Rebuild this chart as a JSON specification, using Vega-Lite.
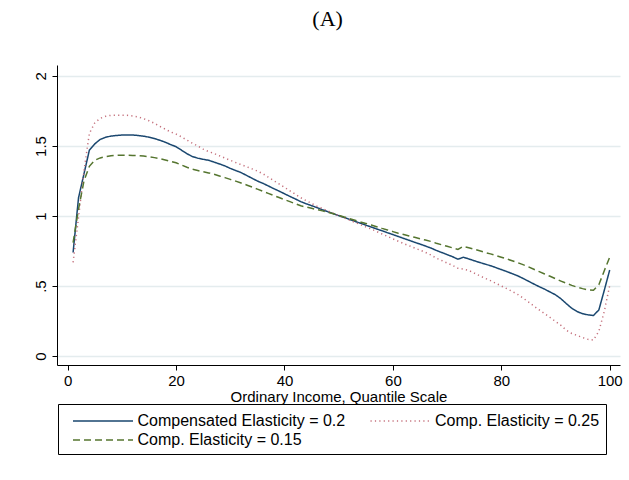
{
  "$schema": "https://vega.github.io/schema/vega-lite/v6.json",
  "autosize": "none",
  "width": 563,
  "height": 300,
  "padding": {"left": 57, "top": 65, "right": 9, "bottom": 115},
  "background": "white",
  "title": {
    "text": "(A)",
    "font": "Liberation Serif",
    "fontSize": 22,
    "fontWeight": "normal",
    "color": "black",
    "frame": "bounds",
    "anchor": "middle",
    "baseline": "alphabetic",
    "offset": 17
  },
  "data": {
    "values": [
      {"q": 1, "e20": 0.74, "e25": 0.67, "e15": 0.81},
      {"q": 2, "e20": 1.13, "e25": 0.99, "e15": 1.05},
      {"q": 3, "e20": 1.30, "e25": 1.32, "e15": 1.25},
      {"q": 4, "e20": 1.47, "e25": 1.59, "e15": 1.355},
      {"q": 5, "e20": 1.515, "e25": 1.665, "e15": 1.398},
      {"q": 6, "e20": 1.547, "e25": 1.697, "e15": 1.415},
      {"q": 7, "e20": 1.562, "e25": 1.712, "e15": 1.424},
      {"q": 8, "e20": 1.571, "e25": 1.719, "e15": 1.43},
      {"q": 9, "e20": 1.575, "e25": 1.72, "e15": 1.433},
      {"q": 10, "e20": 1.578, "e25": 1.72, "e15": 1.434},
      {"q": 11, "e20": 1.578, "e25": 1.719, "e15": 1.434},
      {"q": 12, "e20": 1.578, "e25": 1.714, "e15": 1.433},
      {"q": 13, "e20": 1.575, "e25": 1.707, "e15": 1.431},
      {"q": 14, "e20": 1.57, "e25": 1.695, "e15": 1.428},
      {"q": 15, "e20": 1.563, "e25": 1.68, "e15": 1.423},
      {"q": 16, "e20": 1.553, "e25": 1.662, "e15": 1.417},
      {"q": 17, "e20": 1.541, "e25": 1.64, "e15": 1.41},
      {"q": 18, "e20": 1.527, "e25": 1.62, "e15": 1.40},
      {"q": 19, "e20": 1.51, "e25": 1.6, "e15": 1.39},
      {"q": 20, "e20": 1.495, "e25": 1.585, "e15": 1.38},
      {"q": 21, "e20": 1.47, "e25": 1.565, "e15": 1.364},
      {"q": 22, "e20": 1.445, "e25": 1.542, "e15": 1.348},
      {"q": 23, "e20": 1.425, "e25": 1.52, "e15": 1.334},
      {"q": 24, "e20": 1.413, "e25": 1.5, "e15": 1.325},
      {"q": 25, "e20": 1.405, "e25": 1.478, "e15": 1.316},
      {"q": 26, "e20": 1.398, "e25": 1.46, "e15": 1.308},
      {"q": 27, "e20": 1.385, "e25": 1.447, "e15": 1.298},
      {"q": 28, "e20": 1.372, "e25": 1.43, "e15": 1.286},
      {"q": 29, "e20": 1.358, "e25": 1.414, "e15": 1.274},
      {"q": 30, "e20": 1.34, "e25": 1.398, "e15": 1.262},
      {"q": 31, "e20": 1.325, "e25": 1.382, "e15": 1.249},
      {"q": 32, "e20": 1.31, "e25": 1.367, "e15": 1.236},
      {"q": 33, "e20": 1.29, "e25": 1.352, "e15": 1.222},
      {"q": 34, "e20": 1.27, "e25": 1.337, "e15": 1.207},
      {"q": 35, "e20": 1.25, "e25": 1.321, "e15": 1.192},
      {"q": 36, "e20": 1.234, "e25": 1.302, "e15": 1.177},
      {"q": 37, "e20": 1.215, "e25": 1.278, "e15": 1.162},
      {"q": 38, "e20": 1.196, "e25": 1.253, "e15": 1.147},
      {"q": 39, "e20": 1.178, "e25": 1.229, "e15": 1.132},
      {"q": 40, "e20": 1.159, "e25": 1.205, "e15": 1.117},
      {"q": 41, "e20": 1.14, "e25": 1.18, "e15": 1.103},
      {"q": 42, "e20": 1.122, "e25": 1.156, "e15": 1.088},
      {"q": 43, "e20": 1.103, "e25": 1.131, "e15": 1.073},
      {"q": 44, "e20": 1.088, "e25": 1.11, "e15": 1.064},
      {"q": 45, "e20": 1.074, "e25": 1.09, "e15": 1.055},
      {"q": 46, "e20": 1.06, "e25": 1.07, "e15": 1.046},
      {"q": 47, "e20": 1.045, "e25": 1.055, "e15": 1.037},
      {"q": 48, "e20": 1.031, "e25": 1.037, "e15": 1.027},
      {"q": 49, "e20": 1.017, "e25": 1.02, "e15": 1.017},
      {"q": 50, "e20": 1.003, "e25": 1.003, "e15": 1.005},
      {"q": 51, "e20": 0.99, "e25": 0.987, "e15": 0.993},
      {"q": 52, "e20": 0.976, "e25": 0.971, "e15": 0.982},
      {"q": 53, "e20": 0.962, "e25": 0.955, "e15": 0.97},
      {"q": 54, "e20": 0.949, "e25": 0.939, "e15": 0.958},
      {"q": 55, "e20": 0.935, "e25": 0.923, "e15": 0.947},
      {"q": 56, "e20": 0.922, "e25": 0.907, "e15": 0.936},
      {"q": 57, "e20": 0.908, "e25": 0.89, "e15": 0.924},
      {"q": 58, "e20": 0.895, "e25": 0.872, "e15": 0.912},
      {"q": 59, "e20": 0.881, "e25": 0.855, "e15": 0.901},
      {"q": 60, "e20": 0.868, "e25": 0.837, "e15": 0.889},
      {"q": 61, "e20": 0.854, "e25": 0.82, "e15": 0.877},
      {"q": 62, "e20": 0.84, "e25": 0.803, "e15": 0.868},
      {"q": 63, "e20": 0.827, "e25": 0.788, "e15": 0.858},
      {"q": 64, "e20": 0.813, "e25": 0.772, "e15": 0.848},
      {"q": 65, "e20": 0.8, "e25": 0.757, "e15": 0.838},
      {"q": 66, "e20": 0.786, "e25": 0.741, "e15": 0.829},
      {"q": 67, "e20": 0.772, "e25": 0.722, "e15": 0.819},
      {"q": 68, "e20": 0.755, "e25": 0.70, "e15": 0.806},
      {"q": 69, "e20": 0.74, "e25": 0.683, "e15": 0.795},
      {"q": 70, "e20": 0.725, "e25": 0.665, "e15": 0.784},
      {"q": 71, "e20": 0.71, "e25": 0.648, "e15": 0.773},
      {"q": 72, "e20": 0.692, "e25": 0.627, "e15": 0.762},
      {"q": 73, "e20": 0.706, "e25": 0.622, "e15": 0.784},
      {"q": 74, "e20": 0.694, "e25": 0.612, "e15": 0.774},
      {"q": 75, "e20": 0.681, "e25": 0.593, "e15": 0.763},
      {"q": 76, "e20": 0.669, "e25": 0.574, "e15": 0.752},
      {"q": 77, "e20": 0.657, "e25": 0.556, "e15": 0.74},
      {"q": 78, "e20": 0.646, "e25": 0.539, "e15": 0.73},
      {"q": 79, "e20": 0.632, "e25": 0.52, "e15": 0.718},
      {"q": 80, "e20": 0.618, "e25": 0.501, "e15": 0.706},
      {"q": 81, "e20": 0.604, "e25": 0.482, "e15": 0.694},
      {"q": 82, "e20": 0.589, "e25": 0.462, "e15": 0.681},
      {"q": 83, "e20": 0.574, "e25": 0.441, "e15": 0.668},
      {"q": 84, "e20": 0.555, "e25": 0.415, "e15": 0.653},
      {"q": 85, "e20": 0.535, "e25": 0.387, "e15": 0.638},
      {"q": 86, "e20": 0.515, "e25": 0.358, "e15": 0.62},
      {"q": 87, "e20": 0.496, "e25": 0.33, "e15": 0.603},
      {"q": 88, "e20": 0.478, "e25": 0.303, "e15": 0.586},
      {"q": 89, "e20": 0.458, "e25": 0.276, "e15": 0.57},
      {"q": 90, "e20": 0.438, "e25": 0.248, "e15": 0.553},
      {"q": 91, "e20": 0.41, "e25": 0.22, "e15": 0.536},
      {"q": 92, "e20": 0.375, "e25": 0.185, "e15": 0.52},
      {"q": 93, "e20": 0.342, "e25": 0.162, "e15": 0.505},
      {"q": 94, "e20": 0.318, "e25": 0.148, "e15": 0.492},
      {"q": 95, "e20": 0.303, "e25": 0.133, "e15": 0.482},
      {"q": 96, "e20": 0.295, "e25": 0.12, "e15": 0.473},
      {"q": 97, "e20": 0.29, "e25": 0.115, "e15": 0.47},
      {"q": 98, "e20": 0.33, "e25": 0.178, "e15": 0.51},
      {"q": 99, "e20": 0.47, "e25": 0.32, "e15": 0.61},
      {"q": 100, "e20": 0.615, "e25": 0.505, "e15": 0.707}
    ]
  },
  "transform": [
    {"fold": ["e20", "e25", "e15"], "as": ["series", "v"]}
  ],
  "mark": {"type": "line", "strokeWidth": 1.5, "clip": true},
  "encoding": {
    "x": {
      "field": "q",
      "type": "quantitative",
      "scale": {"domain": [-1.97, 101.9], "nice": false, "zero": false},
      "axis": {
        "values": [0, 20, 40, 60, 80, 100],
        "format": "d",
        "grid": false,
        "title": "Ordinary Income, Quantile Scale",
        "labelPadding": 3,
        "titlePadding": 1
      }
    },
    "y": {
      "field": "v",
      "type": "quantitative",
      "scale": {"domain": [-0.063, 2.078], "nice": false, "zero": false},
      "axis": {
        "values": [0, 0.5, 1, 1.5, 2],
        "labelExpr": "datum.value == 0.5 ? '.5' : format(datum.value, '~g')",
        "labelAngle": -90,
        "labelAlign": "center",
        "labelBaseline": "bottom",
        "labelPadding": 4,
        "grid": true,
        "title": null
      }
    },
    "color": {
      "field": "series",
      "type": "nominal",
      "scale": {
        "domain": ["e20", "e15", "e25"],
        "range": ["#1a476f", "#55752f", "#c4707c"]
      },
      "legend": {
        "title": null,
        "labelExpr": "datum.value == 'e20' ? 'Compensated Elasticity = 0.2' : datum.value == 'e25' ? 'Comp. Elasticity = 0.25' : 'Comp. Elasticity = 0.15'"
      }
    },
    "strokeDash": {
      "field": "series",
      "type": "nominal",
      "scale": {
        "domain": ["e20", "e15", "e25"],
        "range": [[1, 0], [7, 4], [1.2, 3.2]]
      },
      "legend": {
        "title": null,
        "labelExpr": "datum.value == 'e20' ? 'Compensated Elasticity = 0.2' : datum.value == 'e25' ? 'Comp. Elasticity = 0.25' : 'Comp. Elasticity = 0.15'"
      }
    }
  },
  "config": {
    "view": {"stroke": null},
    "font": "Liberation Sans",
    "axis": {
      "domainColor": "black",
      "domainWidth": 1,
      "tickColor": "black",
      "tickWidth": 1,
      "tickSize": 5,
      "labelColor": "black",
      "labelFont": "Liberation Sans",
      "labelFontSize": 15,
      "titleColor": "black",
      "titleFont": "Liberation Sans",
      "titleFontSize": 15,
      "titleFontWeight": "normal",
      "gridColor": "#e4ecee",
      "gridWidth": 1.3
    },
    "legend": {
      "orient": "none",
      "legendX": 1,
      "legendY": 339,
      "columns": 2,
      "symbolType": "M-3,0H3",
      "symbolSize": 400,
      "symbolStrokeWidth": 1.5,
      "symbolOffset": 28,
      "labelOffset": 23.5,
      "labelFont": "Liberation Sans",
      "labelFontSize": 16,
      "labelColor": "black",
      "labelLimit": 400,
      "strokeColor": "black",
      "fillColor": "white",
      "padding": 6,
      "columnPadding": 15.5,
      "rowPadding": 0
    }
  }
}
